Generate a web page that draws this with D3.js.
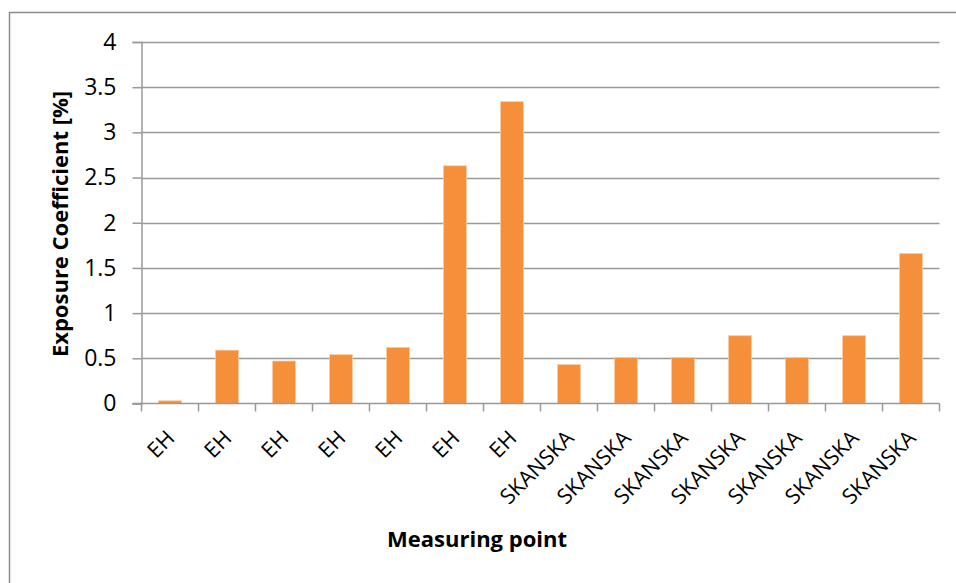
<!DOCTYPE html>
<html>
<head>
<meta charset="utf-8">
<script src="https://cdn.jsdelivr.net/npm/d3@7"></script>
<style>
  html, body { margin: 0; padding: 0; background: #fff; }
  svg { display: block; }
  text { font-family: "Open Sans", sans-serif; fill: #000; }
</style>
</head>
<body>
<svg id="chart" width="956" height="583"></svg>
<script>
const categories = ["EH","EH","EH","EH","EH","EH","EH","SKANSKA","SKANSKA","SKANSKA","SKANSKA","SKANSKA","SKANSKA","SKANSKA"];
const values = [0.03, 0.59, 0.47, 0.54, 0.62, 2.63, 3.34, 0.43, 0.51, 0.51, 0.75, 0.51, 0.75, 1.66];
const yTicks = [0, 0.5, 1, 1.5, 2, 2.5, 3, 3.5, 4];
const yTitle = "Exposure Coefficient [%]";
const xTitle = "Measuring point";

const svg = d3.select("#chart");
const mLeft = 141.5, mRight = 939.5, mTop = 42, mBottom = 403.5;

// outer border
svg.append("rect").attr("x", 9.5).attr("y", 12.5).attr("width", 1000).attr("height", 700)
  .attr("fill", "none").attr("stroke", "#8c8c8c").attr("stroke-width", 1.5);

const x = d3.scaleBand().domain(d3.range(categories.length)).range([mLeft, mRight]).paddingInner(0.6).paddingOuter(0.3);
const xOuter = d3.scaleBand().domain(d3.range(categories.length)).range([mLeft, mRight]);
const y = d3.scaleLinear().domain([0, 4]).range([mBottom, mTop]);

// gridlines
svg.append("g").selectAll("line").data(yTicks.filter(d => d > 0)).join("line")
  .attr("x1", mLeft).attr("x2", mRight)
  .attr("y1", d => Math.round(y(d)) + 0.5).attr("y2", d => Math.round(y(d)) + 0.5)
  .attr("stroke", "#999").attr("stroke-width", 1.5);

// bars
svg.append("g").selectAll("rect").data(values).join("rect")
  .attr("x", (d, i) => x(i))
  .attr("width", x.bandwidth())
  .attr("y", d => y(d))
  .attr("height", d => y(0) - y(d))
  .attr("fill", "#F68F3A")
  .attr("stroke", "#FAC9A0").attr("stroke-width", 0.8);

// y axis
const yAxis = d3.axisLeft(y).tickValues(yTicks).tickSize(9).tickPadding(16).tickFormat(d3.format("~g"));
const gy = svg.append("g").attr("transform", `translate(${mLeft},0)`).call(yAxis);
gy.select(".domain").attr("stroke", "#999").attr("stroke-width", 1.5);
gy.selectAll(".tick line").attr("stroke", "#999").attr("stroke-width", 1.5);
gy.selectAll(".tick text").attr("font-size", 23).attr("font-family", "'Open Sans', sans-serif").attr("fill", "#000");

// x axis
const xTickPos = d3.range(categories.length + 1).map(i => mLeft + i * xOuter.step());
const gx = svg.append("g");
gx.append("line").attr("x1", mLeft - 9).attr("x2", mRight).attr("y1", mBottom).attr("y2", mBottom)
  .attr("stroke", "#999").attr("stroke-width", 1.5);
gx.selectAll("line.tk").data(xTickPos).join("line").attr("class", "tk")
  .attr("x1", d => d).attr("x2", d => d).attr("y1", mBottom).attr("y2", mBottom + 8)
  .attr("stroke", "#999").attr("stroke-width", 1.5);
gx.selectAll("text").data(categories).join("text")
  .attr("transform", (d, i) => `translate(${xOuter(i) + xOuter.bandwidth() / 2 + 6},${mBottom + 36}) rotate(-45)`)
  .attr("text-anchor", "end")
  .attr("font-size", 21.5)
  .text(d => d);

// titles
svg.append("text").attr("x", 477).attr("y", 547).attr("text-anchor", "middle")
  .attr("font-size", 22).attr("font-weight", "bold").text(xTitle);
svg.append("text").attr("transform", "translate(68,224) rotate(-90)").attr("text-anchor", "middle")
  .attr("font-size", 22).attr("font-weight", "bold").text(yTitle);
</script>
</body>
</html>
